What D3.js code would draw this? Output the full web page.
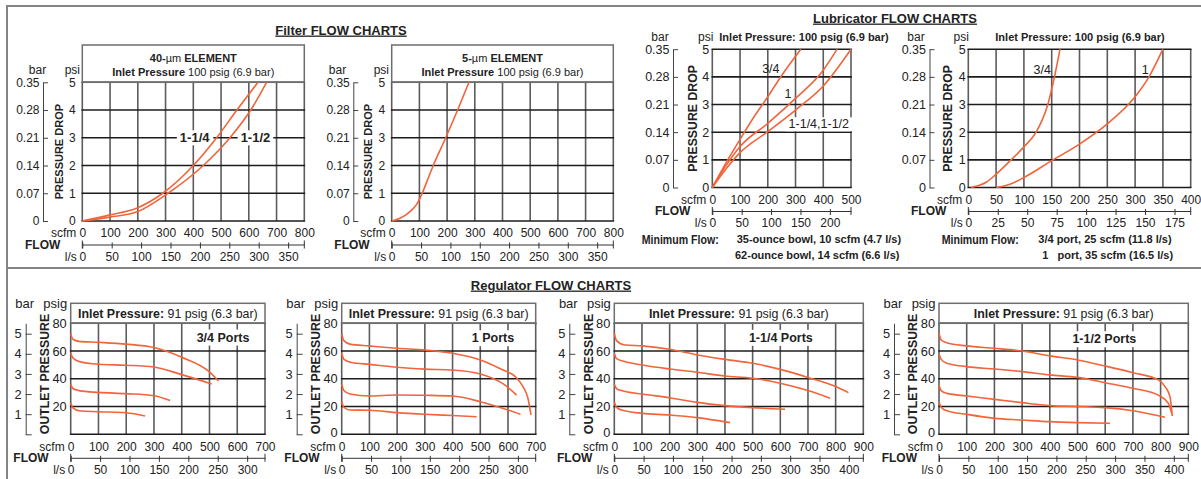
<!DOCTYPE html>
<html>
<head>
<meta charset="utf-8">
<title>Filter, Lubricator and Regulator flow charts</title>
<script src="https://cdn.jsdelivr.net/npm/d3@7"></script>
<style>
body{margin:0;background:#fff}
svg{display:block}
svg text{font-family:"Liberation Sans",Arial,Helvetica,sans-serif;fill:#222}
.grid-h{stroke:#1c1c1c;stroke-width:1.6}
.grid-v{stroke:#5c5c5c;stroke-width:1.6}
.box{fill:none;stroke:#6e6e6e;stroke-width:1.5}
.curve{fill:none;stroke:#f2643a;stroke-width:1.6}
.frame{stroke:#858585;stroke-width:2}
.tick text{font-size:12px}
.reg .psig .tick text,.reg .bar .tick text{font-size:12.8px}
.title{font-size:13px;font-weight:bold;text-decoration:underline}
.unit{font-size:12px}
.flow{font-size:12px;font-weight:bold}
.side{font-weight:bold}
.bold{font-weight:bold}
</style>
</head>
<body>
<script>
// ---- shared ticks
const psiTicks = [0, 1, 2, 3, 4, 5]
const barTicks = [0, 0.07, 0.14, 0.21, 0.28, 0.35]
const barLabels = ['0', '0.07', '0.14', '0.21', '0.28', '0.35']

// ---- Filter flow charts (scfm, psi drop)
const filterScfm = [0, 100, 200, 300, 400, 500, 600, 700, 800]
const filterLps = [0, 50, 100, 150, 200, 250, 300, 350]
const filter40_114 = [[0, 0], [100, 0.22], [200, 0.48], [290, 1.0], [400, 2.0], [484, 3.0], [557, 4.0], [633, 5.0]]
const filter40_112 = [[0, 0], [100, 0.14], [200, 0.34], [309, 1.0], [436, 2.0], [532, 3.0], [607, 4.0], [664, 5.0]]
const filter5 = [[0, 0], [30, 0.1], [66, 0.34], [90, 0.6], [108, 0.95], [130, 1.5], [150, 2.0], [195, 3.0], [238, 4.0], [279, 5.0]]

// ---- Lubricator flow charts
const lubAScfm = [0, 100, 200, 300, 400, 500]
const lubALps = [0, 50, 100, 150, 200]
const lubA34 = [[0, 0], [50, 0.9], [100, 1.74], [150, 2.55], [200, 3.28], [250, 4.05], [319, 5.0]]
const lubA1 = [[0, 0], [50, 0.8], [100, 1.48], [200, 2.32], [300, 3.22], [400, 4.24], [450, 5.0]]
const lubA114 = [[0, 0], [50, 0.68], [100, 1.26], [200, 2.02], [300, 2.8], [400, 3.67], [500, 5.0]]
const lubBScfm = [0, 50, 100, 150, 200, 250, 300, 350, 400]
const lubBLps = [0, 25, 50, 75, 100, 125, 150, 175]
const lubB34 = [[5, 0], [20, 0.08], [33, 0.2], [50, 0.48], [77, 1.0], [100, 1.47], [122, 2.0], [143, 3.0], [155, 4.0], [165, 5.0]]
const lubB1 = [[50, 0], [75, 0.12], [100, 0.36], [150, 0.97], [200, 1.57], [250, 2.3], [300, 3.28], [325, 4.0], [350, 5.0]]

// ---- Regulator flow charts (scfm, outlet psig)
const regPsig = [0, 20, 40, 60, 80]
const regPsigNoZero = [20, 40, 60, 80]
const regBar = [0, 1, 2, 3, 4, 5]
const reg7Scfm = [0, 100, 200, 300, 400, 500, 600, 700]
const reg7Lps = [0, 50, 100, 150, 200, 250, 300]
const reg9Scfm = [0, 100, 200, 300, 400, 500, 600, 700, 800, 900]
const reg9Lps = [0, 50, 100, 150, 200, 250, 300, 350, 400]
const reg34 = [
  [[0, 72.5], [8, 68.5], [30, 67], [100, 66.3], [200, 65], [300, 62.5], [400, 55.5], [500, 45], [532, 38.5]],
  [[0, 58.5], [8, 55], [30, 52.5], [100, 50.5], [200, 49.8], [300, 48.5], [400, 43], [508, 36.3]],
  [[0, 36], [8, 33], [30, 31.5], [100, 30.2], [200, 29.3], [300, 27.8], [358, 24.3]],
  [[0, 22.8], [8, 19], [30, 17], [100, 16.3], [200, 15.5], [268, 13.2]]
]
const reg1 = [
  [[0, 72.3], [8, 67.5], [30, 65], [100, 63.7], [200, 62], [300, 60.8], [400, 58.4], [500, 53.6], [580, 46.5], [630, 41], [655, 34], [672, 26], [683, 14]],
  [[0, 58.4], [8, 54], [36, 51.7], [100, 50.4], [200, 48.3], [300, 47], [400, 46.3], [500, 43.5], [583, 36.3], [631, 28.3]],
  [[0, 36], [8, 31.5], [30, 29], [100, 27.6], [200, 28.3], [300, 28.1], [400, 27.6], [500, 23.5], [600, 17.5], [645, 14.4]],
  [[0, 23.5], [8, 19.5], [30, 17.5], [100, 17.3], [200, 15.6], [300, 14.4], [400, 13.5], [487, 12.7]]
]
const reg114 = [
  [[0, 72.8], [8, 67.5], [38, 64.4], [100, 63.7], [200, 61.3], [300, 57.2], [400, 54], [500, 51.2], [600, 46.8], [700, 41], [800, 34.4], [846, 30]],
  [[0, 58.4], [8, 54.5], [38, 52.4], [100, 50], [200, 47.1], [300, 44.7], [400, 42], [500, 40.4], [600, 36.8], [700, 31.5], [780, 26]],
  [[0, 36], [8, 33], [26, 31.5], [100, 29], [200, 26.4], [300, 23], [400, 20.7], [500, 19.2], [617, 18]],
  [[0, 23.5], [8, 19.5], [26, 17.5], [100, 15.1], [200, 13.9], [300, 12], [418, 8.4]]
]
const reg112 = [
  [[0, 72.8], [8, 68], [28, 66], [100, 63.7], [200, 62], [300, 60], [400, 56.5], [500, 53.6], [600, 49.2], [700, 44.4], [792, 39.2], [816, 34.4], [834, 27], [842, 13.2]],
  [[0, 57.9], [8, 54], [28, 51.2], [100, 48.8], [200, 47.1], [300, 45.2], [400, 42.8], [500, 41], [600, 37.2], [700, 33.2], [798, 27.6], [828, 22.3], [840, 15.1]],
  [[0, 35.6], [8, 31.5], [28, 29.5], [100, 27.6], [200, 25.2], [300, 22.8], [400, 20.7], [500, 20], [600, 19.2], [700, 17], [816, 12.3]],
  [[0, 23.5], [8, 19.5], [28, 17], [100, 14.4], [200, 11.5], [300, 10.3], [400, 9.1], [500, 8.4], [617, 7.9]]
]

const LPS = 0.4719        // l/s per scfm
const BAR = 14.5038       // psi per bar
const fmtInt = d3.format('d')

const svg = d3.select('body').append('svg')
    .attr('width', 1201)
    .attr('height', 479)

// page frame
svg.append('line').attr('class', 'frame').attr('x1', 7).attr('x2', 1201).attr('y1', 6).attr('y2', 6)
svg.append('line').attr('class', 'frame').attr('x1', 7).attr('x2', 7).attr('y1', 5).attr('y2', 479)
svg.append('line').attr('class', 'frame').attr('x1', 7).attr('x2', 1201).attr('y1', 268).attr('y2', 268)

// section titles
svg.append('text').attr('class', 'title').attr('x', 341).attr('y', 30).attr('dy', '0.35em').attr('text-anchor', 'middle').text('Filter FLOW CHARTS')
svg.append('text').attr('class', 'title').attr('x', 895).attr('y', 18).attr('dy', '0.35em').attr('text-anchor', 'middle').text('Lubricator FLOW CHARTS')
svg.append('text').attr('class', 'title').attr('x', 551).attr('y', 285).attr('dy', '0.35em').attr('text-anchor', 'middle').text('Regulator FLOW CHARTS')

// text with white knock-out behind it
function knockText(bgLayer, txtLayer, str, x, y, cls, size, padX, padY) {
  const t = txtLayer.append('text').attr('class', cls).attr('x', x).attr('y', y)
      .attr('dy', '0.35em').attr('text-anchor', 'middle').style('font-size', size + 'px').text(str)
  const b = t.node().getBBox()
  bgLayer.append('rect').attr('x', b.x - padX).attr('y', b.y - padY)
      .attr('width', b.width + 2 * padX).attr('height', b.height + 2 * padY).attr('fill', '#fff')
}

// common axis furniture under a plot
function flowAxes(g, x, lps, c) {
  const off = c.scfmOff || 12
  const sc = g.append('g').attr('transform', `translate(0,${c.bottom})`)
      .call(d3.axisBottom(x).tickValues(c.scfmTicks).tickSize(0))
  sc.select('.domain').remove()
  sc.selectAll('.tick text').attr('y', off).attr('dy', '0.35em')

  const ly = c.bottom + 23.5
  const la = g.append('g').attr('transform', `translate(0,${ly})`)
      .call(d3.axisBottom(lps).tickValues(c.lpsTicks).tickSizeInner(4).tickSizeOuter(0))
  la.select('.domain').attr('stroke', '#333')
  la.selectAll('.tick line').attr('y1', -2).attr('stroke', '#333')
  la.selectAll('.tick text').attr('y', 12).attr('dy', '0.35em')
  lps.range().forEach(px => la.append('line').attr('x1', px).attr('x2', px)
      .attr('y1', -4).attr('y2', 4).attr('stroke', '#333'))

  g.append('text').attr('class', 'unit').attr('x', c.left - 6).attr('y', c.bottom + off)
      .attr('dy', '0.35em').attr('text-anchor', 'end').text('scfm')
  g.append('text').attr('class', 'unit').attr('x', c.left - 5.5).attr('y', ly + 12)
      .attr('dy', '0.35em').attr('text-anchor', 'end').text('l/s')
  g.append('text').attr('class', 'flow').attr('x', c.left - 22).attr('y', ly)
      .attr('dy', '0.35em').attr('text-anchor', 'end').text('FLOW')
}

// filter / lubricator: pressure drop charts
function dropChart(c) {
  const g = svg.append('g')
  const x = d3.scaleLinear().domain([0, c.scfmMax]).range([c.left, c.right])
  const y = d3.scaleLinear().domain([0, 5]).range([c.bottom, c.top])
  const lps = d3.scaleLinear().domain([0, c.scfmMax * LPS]).range([c.left, c.right])
  const bar = d3.scaleLinear().domain([0, 0.35]).range([c.bottom, c.top])
  const gridL = g.append('g'), bgL = g.append('g'), curveL = g.append('g'), txtL = g.append('g')
  const fs = c.lub ? '12.5px' : '12px'

  gridL.selectAll('line.grid-v').data(c.scfmTicks).join('line').attr('class', 'grid-v')
      .attr('x1', x).attr('x2', x).attr('y1', c.top).attr('y2', c.bottom)
  gridL.selectAll('line.grid-h').data(psiTicks).join('line').attr('class', 'grid-h')
      .attr('x1', c.left - 0.8).attr('x2', c.right + 0.8).attr('y1', y).attr('y2', y)

  if (c.head) {
    gridL.append('rect').attr('class', 'box').attr('x', c.left).attr('y', c.head)
        .attr('width', c.right - c.left).attr('height', c.top - c.head)
    const h1 = txtL.append('text').attr('class', 'bold').attr('x', (c.left + c.right) / 2)
        .attr('y', c.head + 13).attr('dy', '0.35em').attr('text-anchor', 'middle').style('font-size', '11px')
    h1.append('tspan').text(c.head1[0])
    h1.append('tspan').style('font-weight', 'normal').text('\u00b5m')
    h1.append('tspan').text(' ELEMENT')
    const h2 = txtL.append('text').attr('x', (c.left + c.right) / 2).attr('y', c.head + 27)
        .attr('dy', '0.35em').attr('text-anchor', 'middle').style('font-size', '11px')
    h2.append('tspan').attr('class', 'bold').text('Inlet Pressure')
    h2.append('tspan').text(' 100 psig (6.9 bar)')
  } else {
    txtL.append('text').attr('class', 'bold').attr('x', c.inletX).attr('y', 37).attr('dy', '0.35em')
        .attr('text-anchor', 'middle').style('font-size', '11px').text('Inlet Pressure: 100 psig (6.9 bar)')
  }

  // psi axis
  const pa = g.append('g').attr('transform', `translate(${c.left},0)`)
      .call(d3.axisLeft(y).tickValues(psiTicks).tickSize(0).tickPadding(c.psiPad).tickFormat(fmtInt))
  pa.select('.domain').remove()
  pa.selectAll('.tick text').style('font-size', fs)
  // bar axis
  const ba = g.append('g').attr('transform', `translate(${c.barX},0)`)
      .call(d3.axisLeft(bar).tickValues(barTicks).tickSizeInner(-5).tickSizeOuter(0).tickPadding(3.5)
        .tickFormat((d, i) => barLabels[i]))
  ba.selectAll('.domain, .tick line').attr('stroke', '#444')
  ba.selectAll('.tick text').style('font-size', fs)

  txtL.append('text').attr('class', 'unit').attr('x', c.barWord).attr('y', c.unitY).attr('dy', '0.35em')
      .attr('text-anchor', 'middle').text('bar')
  txtL.append('text').attr('class', 'unit').attr('x', c.left + c.psiWord).attr('y', c.unitY).attr('dy', '0.35em')
      .attr('text-anchor', 'end').text('psi')
  txtL.append('text').attr('class', 'side').style('font-size', c.sideSize + 'px')
      .attr('transform', `translate(${c.left - c.sideOff},${(c.top + c.bottom) / 2}) rotate(-90)`)
      .attr('dy', '0.35em').attr('text-anchor', 'middle').text('PRESSURE DROP')

  flowAxes(g, x, lps, c)

  c.labels.forEach(l => {
    if (l.bg) knockText(bgL, txtL, l.text, x(l.at[0]), y(l.at[1]), l.cls, l.size, 3, 0)
    else txtL.append('text').attr('class', l.cls).attr('x', x(l.at[0])).attr('y', y(l.at[1]))
        .attr('dy', '0.35em').attr('text-anchor', 'middle').style('font-size', l.size + 'px').text(l.text)
  })

  const line = d3.line().x(d => x(d[0])).y(d => y(d[1])).curve(d3.curveMonotoneX)
  curveL.selectAll('path').data(c.series).join('path').attr('class', 'curve').attr('d', line)

  if (c.minFlow) {
    const m = c.minFlow
    txtL.append('text').attr('class', 'bold').attr('x', m.x).attr('y', 239).attr('dy', '0.35em')
        .style('font-size', '13px').attr('textLength', 77).attr('lengthAdjust', 'spacingAndGlyphs')
        .text('Minimum Flow:')
    txtL.append('text').attr('class', 'bold').attr('x', m.x2).attr('y', 239).attr('dy', '0.35em')
        .style('font-size', '11px').text(m.l1)
    txtL.append('text').attr('class', 'bold').attr('x', m.x3).attr('y', 255).attr('dy', '0.35em')
        .style('font-size', '11px').attr('xml:space', 'preserve').text(m.l2)
  }
}

// regulator: outlet pressure charts
function regChart(c) {
  const g = svg.append('g').attr('class', 'reg')
  const top = 323.3, bottom = 434.3, head = 303.3
  c.top = top; c.bottom = bottom; c.scfmOff = 12.8
  const x = d3.scaleLinear().domain([0, c.scfmMax]).range([c.left, c.right])
  const y = d3.scaleLinear().domain([0, 80]).range([bottom, top])
  const lps = d3.scaleLinear().domain([0, c.scfmMax * LPS]).range([c.left, c.right])
  const bar = d3.scaleLinear().domain([0, 80 / BAR]).range([bottom, top])
  const gridL = g.append('g'), bgL = g.append('g'), curveL = g.append('g'), txtL = g.append('g')

  gridL.selectAll('line.grid-v').data(c.scfmTicks).join('line').attr('class', 'grid-v')
      .attr('x1', x).attr('x2', x).attr('y1', top).attr('y2', bottom)
  gridL.selectAll('line.grid-h').data(regPsig).join('line').attr('class', 'grid-h')
      .attr('x1', c.left - 0.8).attr('x2', c.right + 0.8).attr('y1', y).attr('y2', y)
  gridL.append('rect').attr('class', 'box').attr('x', c.left).attr('y', head)
      .attr('width', c.right - c.left).attr('height', top - head)

  const h = txtL.append('text').attr('x', (c.left + c.right) / 2).attr('y', (head + top) / 2)
      .attr('dy', '0.35em').attr('text-anchor', 'middle').style('font-size', '12.4px')
  h.append('tspan').attr('class', 'bold').text('Inlet Pressure:')
  h.append('tspan').text(' 91 psig (6.3 bar)')

  const pa = g.append('g').attr('class', 'psig').attr('transform', `translate(${c.left},0)`)
      .call(d3.axisLeft(y).tickValues(c.psigTicks).tickSize(0).tickPadding(4).tickFormat(fmtInt))
  pa.select('.domain').remove()
  pa.selectAll('.tick text').filter(d => d === 0).attr('y', -1.5)
  const ba = g.append('g').attr('class', 'bar').attr('transform', `translate(${c.left - 45},0)`)
      .call(d3.axisLeft(bar).tickValues(regBar).tickSizeInner(-6).tickSizeOuter(0).tickPadding(4)
        .tickFormat(d => d || ''))
  ba.selectAll('.domain, .tick line').attr('stroke', '#444')

  txtL.append('text').attr('class', 'unit').attr('x', c.left - 46).attr('y', head).attr('dy', '0.35em')
      .attr('text-anchor', 'middle').style('font-size', '13px').text('bar')
  txtL.append('text').attr('class', 'unit').attr('x', c.left - 3.5).attr('y', head).attr('dy', '0.35em')
      .attr('text-anchor', 'end').style('font-size', '13px').text('psig')
  txtL.append('text').attr('class', 'side').style('font-size', '12.3px')
      .attr('transform', `translate(${c.left - 26},374) rotate(-90)`)
      .attr('dy', '0.35em').attr('text-anchor', 'middle').text('OUTLET PRESSURE')

  flowAxes(g, x, lps, c)

  knockText(bgL, txtL, c.ports, x(c.portsAt[0]), y(c.portsAt[1]), 'bold', 12.5, 2, 1)

  const line = d3.line().x(d => x(d[0])).y(d => y(d[1])).curve(d3.curveMonotoneX)
  curveL.selectAll('path').data(c.series).join('path').attr('class', 'curve').attr('d', line)
}

dropChart({
  left: 82.3, right: 304.3, top: 82.3, bottom: 221, head: 45, head1: ['40-'],
  scfmMax: 800, scfmTicks: filterScfm, lpsTicks: filterLps,
  barX: 43, barWord: 37.5, psiWord: -2.3, psiPad: 6.5, unitY: 70, sideOff: 23.5, sideSize: 11,
  series: [filter40_114, filter40_112],
  labels: [
    {text: '1-1/4', at: [405, 3], cls: 'bold', size: 13, bg: true},
    {text: '1-1/2', at: [624, 3], cls: 'bold', size: 13, bg: true}
  ]
})
dropChart({
  left: 391.7, right: 613.3, top: 82.3, bottom: 221, head: 45, head1: ['5-'],
  scfmMax: 800, scfmTicks: filterScfm, lpsTicks: filterLps,
  barX: 353.3, barWord: 337.5, psiWord: -2.7, psiPad: 6.5, unitY: 70, sideOff: 23.5, sideSize: 11,
  series: [filter5],
  labels: []
})
dropChart({
  left: 712.3, right: 851, top: 49.2, bottom: 187.5, lub: true, inletX: 804,
  scfmMax: 500, scfmTicks: lubAScfm, lpsTicks: lubALps,
  barX: 673, barWord: 660, psiWord: 1, psiPad: 3, unitY: 37, sideOff: 19.5, sideSize: 12.3,
  series: [lubA34, lubA1, lubA114],
  labels: [
    {text: '3/4', at: [211, 4.31], cls: 'unit', size: 12.5},
    {text: '1', at: [273, 3.41], cls: 'unit', size: 12.5},
    {text: '1-1/4,1-1/2', at: [384, 2.3], cls: 'unit', size: 12.5, bg: true}
  ],
  minFlow: {x: 641.7, x2: 736.7, x3: 735, l1: '35-ounce bowl, 10 scfm (4.7 l/s)', l2: '62-ounce bowl, 14 scfm (6.6 l/s)'}
})
dropChart({
  left: 968.3, right: 1190.7, top: 49.2, bottom: 187.5, lub: true, inletX: 1080,
  scfmMax: 400, scfmTicks: lubBScfm, lpsTicks: lubBLps,
  barX: 929.5, barWord: 916, psiWord: 0.5, psiPad: 2.5, unitY: 37, sideOff: 20.3, sideSize: 12.3,
  series: [lubB34, lubB1],
  labels: [
    {text: '3/4', at: [133, 4.25], cls: 'unit', size: 12.5},
    {text: '1', at: [318, 4.25], cls: 'unit', size: 12.5}
  ],
  minFlow: {x: 941.7, x2: 1038.3, x3: 1042.3, l1: '3/4 port, 25 scfm (11.8 l/s)', l2: '1   port, 35 scfm (16.5 l/s)'}
})

regChart({left: 70.7, right: 265, scfmMax: 700, scfmTicks: reg7Scfm, lpsTicks: reg7Lps, psigTicks: regPsigNoZero,
  ports: '3/4 Ports', portsAt: [549, 70], series: reg34})
regChart({left: 341.7, right: 535.7, scfmMax: 700, scfmTicks: reg7Scfm, lpsTicks: reg7Lps, psigTicks: regPsig,
  ports: '1 Ports', portsAt: [546, 69.5], series: reg1})
regChart({left: 614.3, right: 863.3, scfmMax: 900, scfmTicks: reg9Scfm, lpsTicks: reg9Lps, psigTicks: regPsig,
  ports: '1-1/4 Ports', portsAt: [602, 69.8], series: reg114})
regChart({left: 939, right: 1188.3, scfmMax: 900, scfmTicks: reg9Scfm, lpsTicks: reg9Lps, psigTicks: regPsig,
  ports: '1-1/2 Ports', portsAt: [597, 68.8], series: reg112})
</script>
</body>
</html>
